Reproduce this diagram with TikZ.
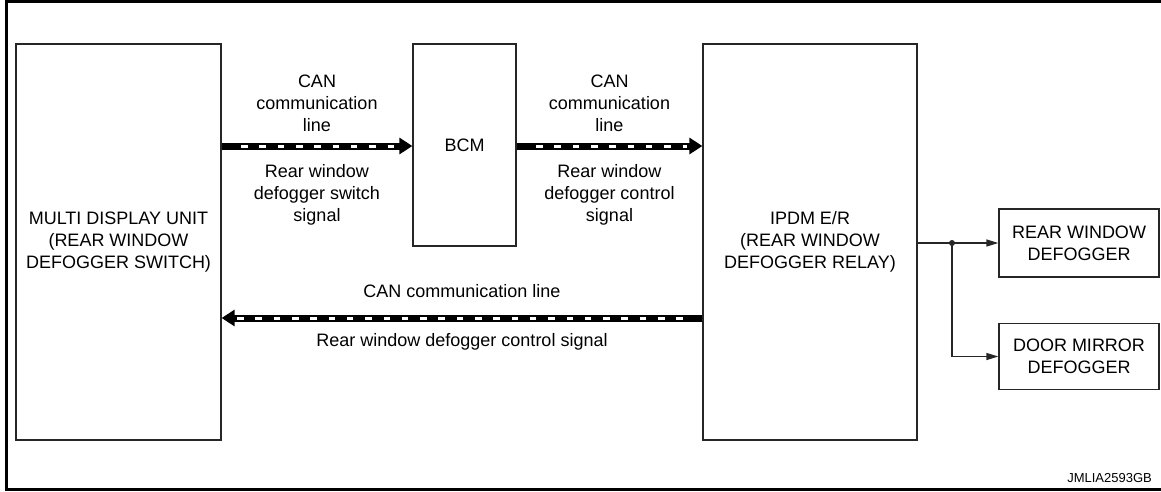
\documentclass[tikz,border=0pt]{standalone}
\usepackage{fontspec}
\setmainfont{Liberation Sans}
\usetikzlibrary{calc,arrows.meta}

\begin{document}
\begin{tikzpicture}[x=1pt,y=-1pt,
	box/.style={draw=black!85,line width=1.3pt,align=center,inner sep=0pt,font=\fontsize{18}{22}\selectfont},
	lbl/.style={align=center,inner sep=0pt,font=\fontsize{18}{22}\selectfont},
	canline/.style={line width=7pt,-{Triangle[length=13pt,width=16pt]},
		postaction={draw=white,line width=3pt,arrows=-,dash pattern=on 6.5pt off 11.8pt,dash phase=11.8pt,shorten <=13pt,shorten >=15pt}},
	sigline/.style={draw=black!85,line width=1.3pt,-{Triangle[length=12pt,width=7pt]}}
]
	\pgfmathsetmacro{\W}{1161}		%width of the sheet
	\pgfmathsetmacro{\H}{491}		%height of the sheet
	\pgfmathsetmacro{\canup}{146}	%height of the upper CAN lines
	\pgfmathsetmacro{\candown}{318}	%height of the lower CAN line
	\pgfmathsetmacro{\split}{952}	%where the relay output splits

	\useasboundingbox (0,0) rectangle (\W,\H);

	%frame
	\draw[line width=3pt] (\W,1.5) -- (6.5,1.5) -- (6.5,489) -- (\W,489);

	%units
	\node[box,minimum width=205pt,minimum height=396pt] (mdu) at (118.5,242) {MULTI DISPLAY UNIT\\(REAR WINDOW\\DEFOGGER SWITCH)};
	\node[box,minimum width=103pt,minimum height=202pt] (bcm) at (464.5,145) {BCM};
	\node[box,minimum width=214pt,minimum height=396pt] (ipdm) at (810,242) {IPDM E/R\\(REAR WINDOW\\DEFOGGER RELAY)};
	\node[box,minimum width=160pt,minimum height=68pt] (rwd) at (1079,243) {REAR WINDOW\\DEFOGGER};
	\node[box,minimum width=160pt,minimum height=66pt] (dmd) at (1079,356.5) {DOOR MIRROR\\DEFOGGER};

	\coordinate (up) at (0,\canup);
	\coordinate (down) at (0,\candown);
	\coordinate (sp) at (\split,243);

	%CAN lines
	\draw[canline] (mdu.east |- up) -- (bcm.west |- up)
		node[lbl,midway,above=11pt] {CAN\\communication\\line}
		node[lbl,midway,below=15pt] {Rear window\\defogger switch\\signal};
	\draw[canline] (bcm.east |- up) -- (ipdm.west |- up)
		node[lbl,midway,above=11pt] {CAN\\communication\\line}
		node[lbl,midway,below=15pt] {Rear window\\defogger control\\signal};
	\draw[canline] (ipdm.west |- down) -- (mdu.east |- down)
		node[lbl,midway,above=17pt] {CAN communication line}
		node[lbl,midway,below=12pt] {Rear window defogger control signal};

	%relay outputs
	\draw[sigline] (ipdm.east |- rwd.west) -- (rwd.west);
	\draw[sigline] (sp) |- (dmd.west);
	\fill[black!85] (sp) circle (3pt);

	\node[lbl,font=\fontsize{13}{15}\selectfont,anchor=base east] (code) at (1152,482) {JMLIA2593GB};
\end{tikzpicture}
\end{document}
